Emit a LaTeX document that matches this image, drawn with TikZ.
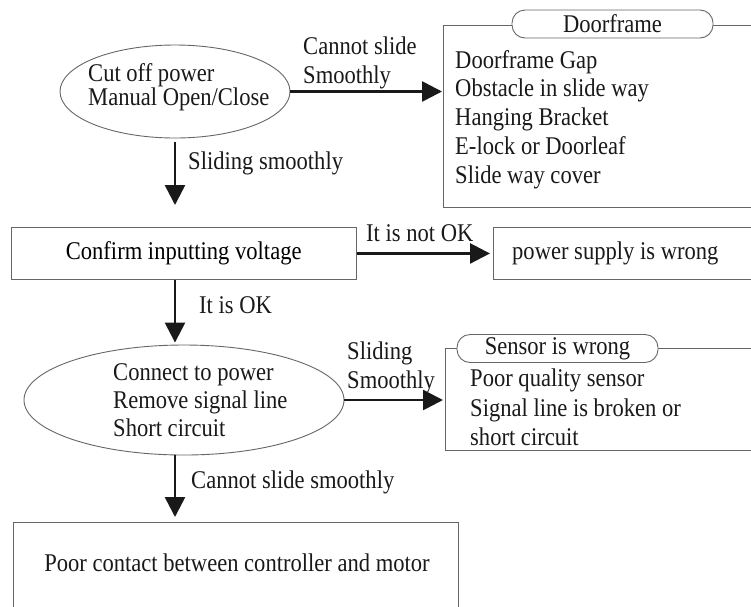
\documentclass[tikz,border=0pt]{standalone}
\usepackage{fontspec}
\setmainfont{Liberation Serif}[FakeStretch=0.885]
\usetikzlibrary{arrows.meta,shapes.geometric}
\tikzset{
  lab/.style={font=\fontsize{25.5}{29}\selectfont, inner sep=0pt, align=left, text=black!90},
  box/.style={draw=black!60, line width=0.9pt, rectangle, inner sep=0pt, anchor=north west},
  pill/.style={draw=black!60, line width=0.9pt, fill=white, rounded corners=13pt,
    minimum width=201pt, minimum height=28pt, inner sep=0pt,
    font=\fontsize{25.5}{29}\selectfont, text=black!90},
  oval/.style={draw=black!60, line width=0.9pt, ellipse, inner sep=0pt},
  arr/.style={line width=2.6pt, draw=black!90, -{Triangle[length=20pt,width=20pt]}}
}
\begin{document}
\begin{tikzpicture}[x=1pt,y=-1pt]
\useasboundingbox (0,0) rectangle (751,606);
\clip (0,0) rectangle (751,606);

% shapes
\node[oval, minimum width=230pt, minimum height=93pt] (e1) at (175,91.5) {};
\node[lab, anchor=west, font=\fontsize{25.5}{24}\selectfont] (e1t) at (88,87) {Cut off power\\Manual Open/Close};

\node[box, minimum width=317pt, minimum height=182pt] (door) at (443,25) {};
\node[pill] (doorp) at (612.5,24) {Doorframe};
\node[lab, anchor=west, font=\fontsize{25.5}{28.75}\selectfont] (doorl) at (455,119.5)
  {Doorframe Gap\\Obstacle in slide way\\Hanging Bracket\\E-lock or Doorleaf\\Slide way cover};

\node[box, minimum width=345.5pt, minimum height=52pt, font=\fontsize{25.5}{29}\selectfont] (conf) at (10.5,227) {Confirm inputting voltage};

\node[box, minimum width=267pt, minimum height=52pt] (power) at (493,227) {};
\node[lab, anchor=west] (powt) at (512,253) {power supply is wrong};

\node[oval, minimum width=320pt, minimum height=110pt] (e2) at (184,400) {};
\node[lab, anchor=west, font=\fontsize{25.5}{28}\selectfont] (e2t) at (113,400)
  {Connect to power\\Remove signal line\\Short circuit};

\node[box, minimum width=315pt, minimum height=102pt] (sens) at (445,348) {};
\node[pill] (sensp) at (557.5,348.5) {Sensor is wrong};
\node[lab, anchor=west, font=\fontsize{25.5}{29.5}\selectfont] (sensl) at (470,407.5)
  {Poor quality sensor\\Signal line is broken or\\short circuit};

\node[box, minimum width=445pt, minimum height=100pt] (bot) at (13,522) {};
\node[lab] (bott) at (237,563) {Poor contact between controller and motor};

% connector labels
\node[lab, anchor=west] (l1) at (303,62.5) {Cannot slide\\Smoothly};
\node[lab, anchor=west] (l2) at (188,163) {Sliding smoothly};
\node[lab, anchor=west] (l3) at (366,233) {It is not OK};
\node[lab, anchor=west] (l4) at (199,305) {It is OK};
\node[lab, anchor=west] (l5) at (347,367.5) {Sliding\\Smoothly};
\node[lab, anchor=west] (l6) at (191,482) {Cannot slide smoothly};

% connectors
\draw[arr, shorten >=1pt] (e1.east) -- (e1.east -| door.west);
\draw[arr, shorten <=4pt, shorten >=22pt] (e1.south) -- (e1.south |- conf.north);
\draw[arr, shorten >=3pt] (conf.east) -- (conf.east -| power.west);
\draw[arr, shorten >=2pt] (e1.south |- conf.south) -- (e1.south |- e2.north);
\draw[arr, shorten >=2pt] (e2.east) -- (e2.east -| sens.west);
\draw[arr, shorten >=5pt] (e1.south |- e2.south) -- (e1.south |- bot.north);
\end{tikzpicture}
\end{document}
